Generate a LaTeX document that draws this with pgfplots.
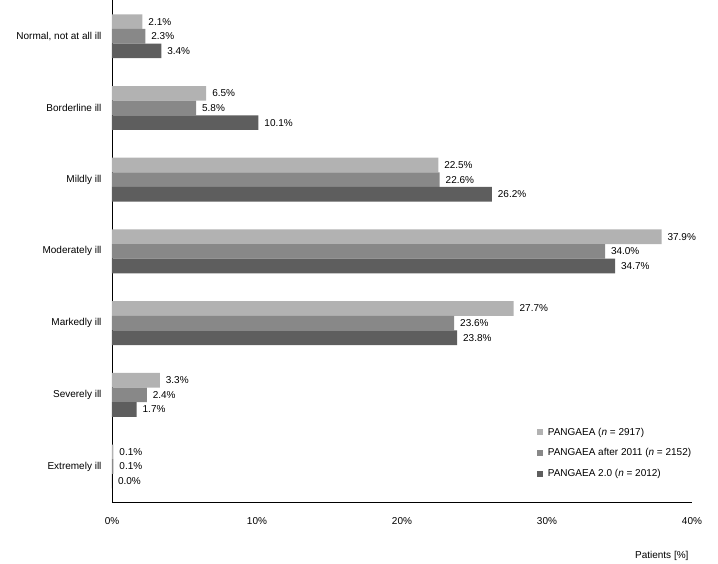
\documentclass[border=0pt]{standalone}
\usepackage{fontspec}
\setmainfont{Liberation Sans}
\usepackage{pgfplots}
\pgfplotsset{compat=1.18}
\usepackage{pgfplotstable}

\definecolor{barlight}{HTML}{B2B2B2}
\definecolor{barmid}{HTML}{888888}
\definecolor{bardark}{HTML}{5E5E5E}

% CGI-S distribution, values in percent
\pgfplotstableread{
idx  p1    p2    p3
0    2.1   2.3   3.4
1    6.5   5.8   10.1
2    22.5  22.6  26.2
3    37.9  34.0  34.7
4    27.7  23.6  23.8
5    3.3   2.4   1.7
6    0.1   0.1   0.0
}\cgidata

\begin{document}
\begin{tikzpicture}
\begin{axis}[
  scale only axis,
  width=580pt, height=502pt,
  xbar, bar width=0.204,
  y dir=reverse,
  xmin=0, xmax=40, ymin=-0.5, ymax=6.5,
  axis x line*=bottom, axis y line*=left,
  axis line style={black, line width=0.8pt, -},
  major tick length=0pt,
  xtick={0,10,20,30,40},
  xticklabel={\pgfmathprintnumber{\tick}\%},
  xticklabel style={font=\fontsize{10}{12}\selectfont, yshift=-12pt},
  ytick={0,...,6},
  yticklabels={{Normal, not at all ill},{Borderline ill},{Mildly ill},{Moderately ill},{Markedly ill},{Severely ill},{Extremely ill}},
  yticklabel style={font=\fontsize{10}{12}\selectfont, xshift=-7pt},
  /pgf/number format/assume math mode=true,
  xlabel={Patients [\%]},
  xlabel style={at={(rel axis cs:1,0)}, anchor=base east, yshift=-56pt, font=\fontsize{10}{12}\selectfont},
  point meta=x,
  nodes near coords={\pgfmathprintnumber[fixed,fixed zerofill,precision=1]{\pgfplotspointmeta}\%},
  nodes near coords style={font=\fontsize{10}{12}\selectfont, xshift=2.5pt, text=black},
  legend style={at={(rel axis cs:0.727,0.157)}, anchor=north west, draw=none, fill=none,
    font=\fontsize{10}{12}\selectfont, row sep=8pt},
  legend cell align=left,
  legend image code/.code={\fill[#1] (0pt,-3pt) rectangle (6pt,3pt); \path (9pt,0pt);},
]
\addplot[fill=barlight, draw=none, bar shift=-0.204] table[x=p1, y=idx] {\cgidata};
\addplot[fill=barmid, draw=none, bar shift=0] table[x=p2, y=idx] {\cgidata};
\addplot[fill=bardark, draw=none, bar shift=0.204] table[x=p3, y=idx] {\cgidata};
\legend{{PANGAEA (\textit{n} = 2917)},{PANGAEA after 2011 (\textit{n} = 2152)},{PANGAEA 2.0 (\textit{n} = 2012)}}
\coordinate (ll) at (rel axis cs:0,1);
\coordinate (ur) at (rel axis cs:1,0);
\end{axis}
\path[use as bounding box] ([shift={(-112pt,-55pt)}]ll) rectangle ([shift={(26pt,5pt)}]ur);
\end{tikzpicture}
\end{document}
